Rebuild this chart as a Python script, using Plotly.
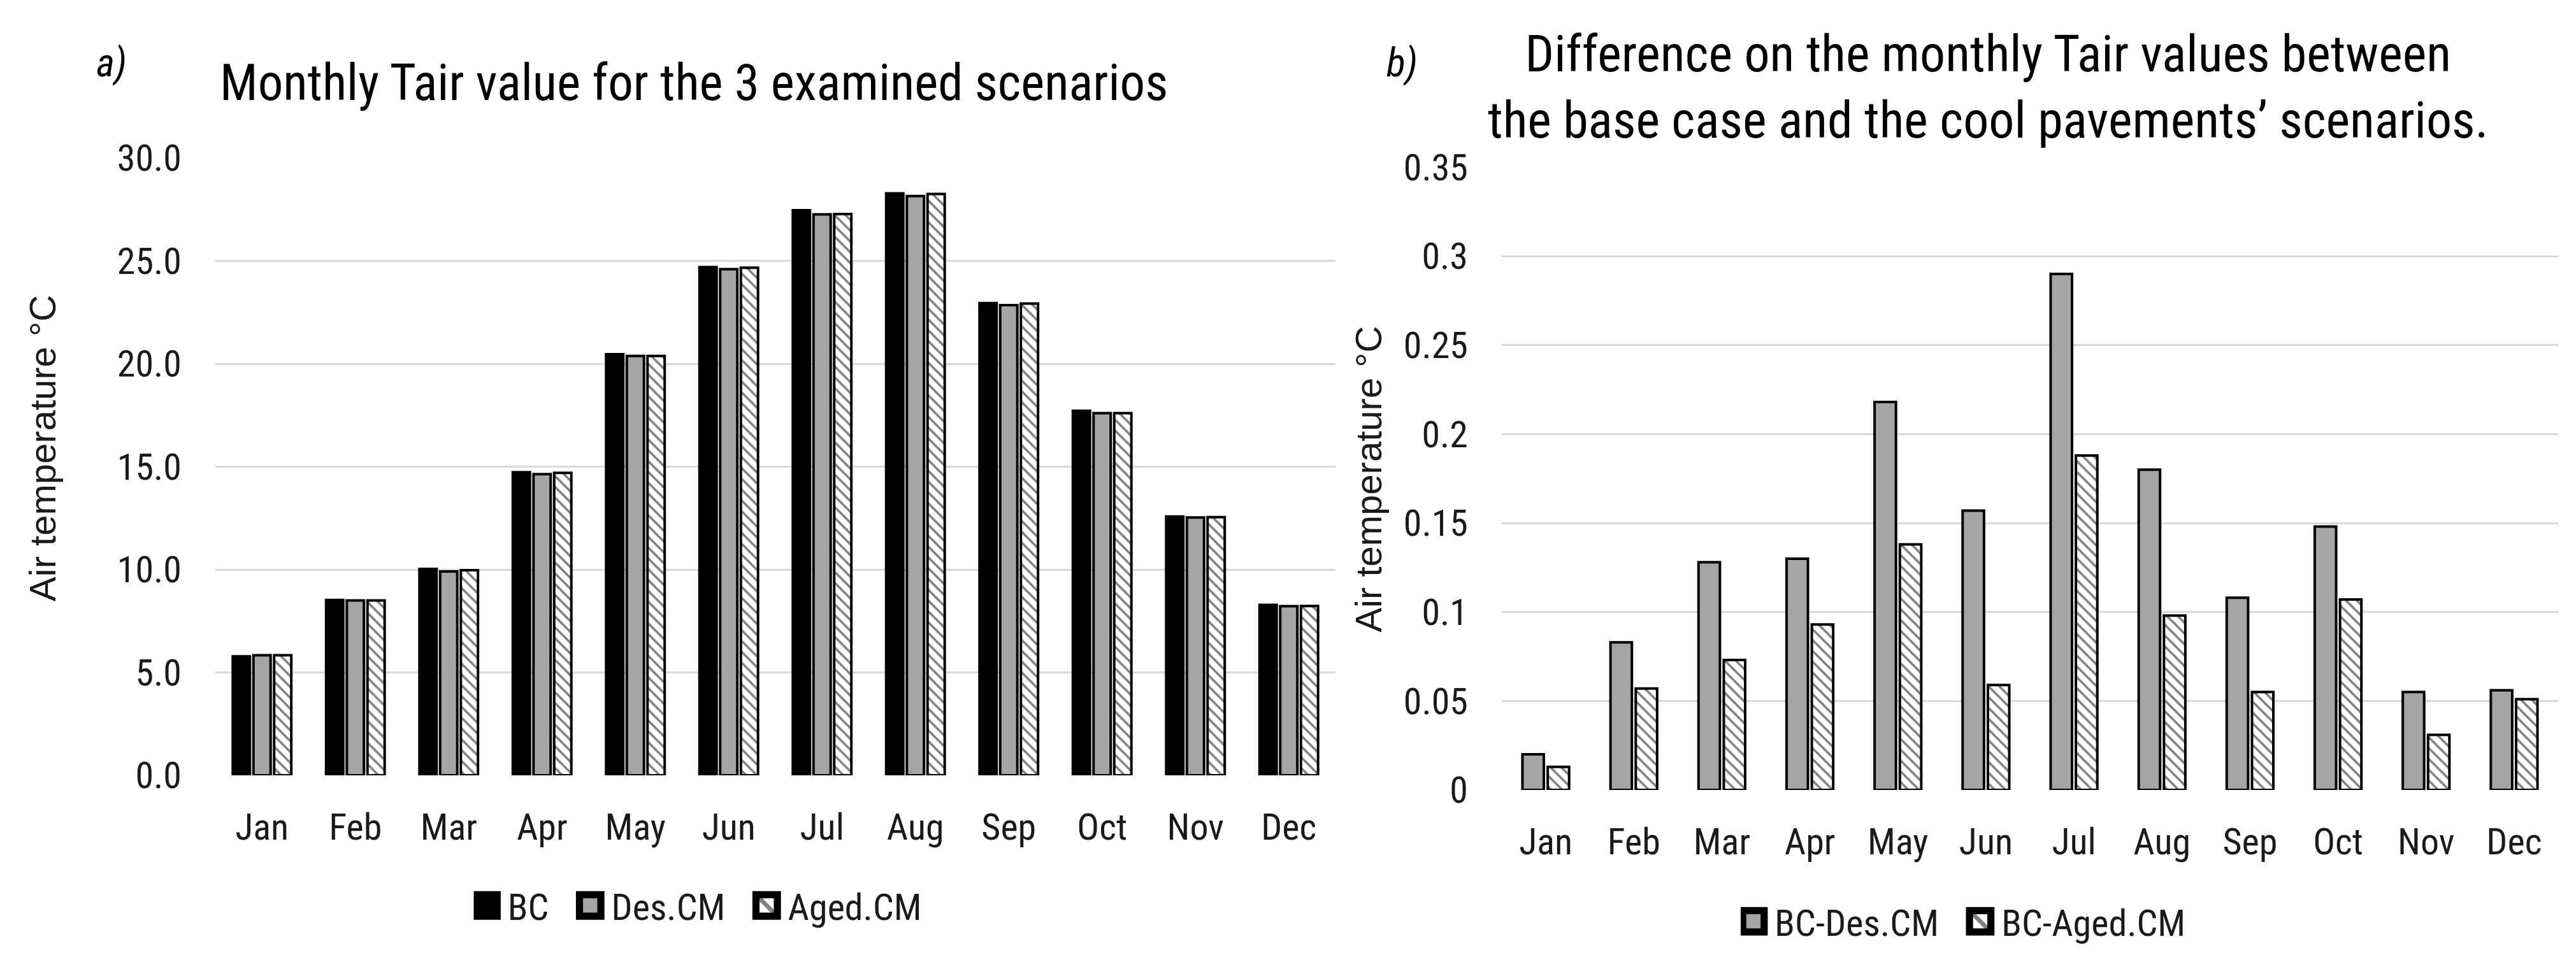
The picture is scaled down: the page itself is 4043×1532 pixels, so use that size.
import plotly.graph_objects as go

months = ["Jan", "Feb", "Mar", "Apr", "May", "Jun", "Jul", "Aug", "Sep", "Oct", "Nov", "Dec"]

# Panel a) monthly air temperature (degC)
bc = [5.78, 8.52, 10.03, 14.73, 20.47, 24.70, 27.46, 28.28, 22.95, 17.72, 12.58, 8.28]
des_cm = [5.84, 8.50, 9.91, 14.64, 20.38, 24.60, 27.26, 28.15, 22.85, 17.60, 12.53, 8.22]
aged_cm = [5.84, 8.50, 9.97, 14.70, 20.38, 24.67, 27.28, 28.25, 22.93, 17.60, 12.55, 8.23]

# Panel b) differences (degC)
bc_des = [0.020, 0.083, 0.128, 0.130, 0.218, 0.157, 0.290, 0.180, 0.108, 0.148, 0.055, 0.056]
bc_aged = [0.013, 0.057, 0.073, 0.093, 0.138, 0.059, 0.188, 0.098, 0.055, 0.107, 0.031, 0.051]

left_ticks = [0, 5, 10, 15, 20, 25, 30]
right_ticks = [0, 0.05, 0.1, 0.15, 0.2, 0.25, 0.3, 0.35]

W, H = 4043, 1532
NARROW = "Liberation Sans Narrow, Arial Narrow, Roboto Condensed, Liberation Sans"
WIDE = "Liberation Sans, Arial, DejaVu Sans"
GRAY = "#a5a5a5"
LEAD = "\u00a0"
PAD = "\u00a0" * 3
hatch = dict(shape="\\", fgcolor="black", bgcolor="white", size=12, solidity=0.3)

fig = go.Figure()

fig.add_trace(go.Bar(x=months, y=bc, name=LEAD + "BC" + PAD, marker=dict(color="black", line=dict(color="black", width=4)),
                     xaxis="x", yaxis="y", legend="legend"))
fig.add_trace(go.Bar(x=months, y=des_cm, name=LEAD + "Des.CM" + PAD, marker=dict(color=GRAY, line=dict(color="black", width=4)),
                     xaxis="x", yaxis="y", legend="legend"))
fig.add_trace(go.Bar(x=months, y=aged_cm, name=LEAD + "Aged.CM",
                     marker=dict(color="white", pattern=hatch, line=dict(color="black", width=4)),
                     xaxis="x", yaxis="y", legend="legend"))

fig.add_trace(go.Bar(x=months, y=bc_des, name=LEAD + "BC-Des.CM" + PAD, width=0.243, offset=-0.265,
                     marker=dict(color=GRAY, line=dict(color="black", width=4)),
                     xaxis="x2", yaxis="y2", legend="legend2"))
fig.add_trace(go.Bar(x=months, y=bc_aged, name=LEAD + "BC-Aged.CM", width=0.243, offset=0.022,
                     marker=dict(color="white", pattern=hatch, line=dict(color="black", width=4)),
                     xaxis="x2", yaxis="y2", legend="legend2"))

tickfont = dict(family=NARROW, size=58, color="#1a1a1a")
common_x = dict(showgrid=False, showline=False, zeroline=False, ticks="", tickfont=tickfont,
                ticklabelstandoff=42, fixedrange=True)
common_y = dict(showgrid=True, gridcolor="#d9d9d9", gridwidth=3, showline=False, zeroline=False,
                ticks="", tickfont=tickfont, ticklabelstandoff=52, fixedrange=True)

fig.update_layout(
    width=W, height=H,
    margin=dict(l=0, r=0, t=0, b=0),
    paper_bgcolor="white", plot_bgcolor="white",
    barmode="group", bargap=0.335, bargroupgap=0.17,
    xaxis=dict(domain=[338 / W, 2096 / W], anchor="y", **common_x),
    yaxis=dict(domain=[1 - 1238 / H, 1 - 224 / H], anchor="x", range=[0, 30], tickvals=left_ticks,
               tickformat=".1f", **common_y),
    xaxis2=dict(domain=[2357 / W, 4015 / W], anchor="y2", **common_x),
    yaxis2=dict(domain=[1 - 1262 / H, 1 - 239 / H], anchor="x2", range=[0, 0.35], tickvals=right_ticks,
                **common_y),
    legend=dict(orientation="h", x=1098 / W, y=1 - 1452 / H, xanchor="center", yanchor="middle",
                font=dict(family=NARROW, size=58, color="#1a1a1a"), bgcolor="rgba(0,0,0,0)"),
    legend2=dict(orientation="h", x=3084 / W, y=1 - 1478 / H, xanchor="center", yanchor="middle",
                 font=dict(family=NARROW, size=58, color="#1a1a1a"), bgcolor="rgba(0,0,0,0)"),
    annotations=[
        dict(text="Monthly Tair value for the 3 examined scenarios", x=1089 / W, y=1 - 100 / H,
             xref="paper", yref="paper", xanchor="center", yanchor="middle", showarrow=False,
             font=dict(family=NARROW, size=79, color="black")),
        dict(text="<i>a)</i>", x=175 / W, y=1 - 68 / H, xref="paper", yref="paper",
             xanchor="center", yanchor="middle", showarrow=False,
             font=dict(family=NARROW, size=62, color="black")),
        dict(text="Difference on the monthly Tair values between<br>the base case and the cool pavements\u2019 scenarios.",
             x=3120 / W, y=1 - 108 / H, xref="paper", yref="paper", xanchor="center", yanchor="middle",
             align="center", showarrow=False, font=dict(family=NARROW, size=80, color="black")),
        dict(text="<i>b)</i>", x=2200 / W, y=1 - 68 / H, xref="paper", yref="paper",
             xanchor="center", yanchor="middle", showarrow=False,
             font=dict(family=NARROW, size=62, color="black")),
        dict(text="Air temperature \u00b0C", x=67 / W, y=1 - 701 / H, xref="paper", yref="paper",
             xanchor="center", yanchor="middle", textangle=-90, showarrow=False,
             font=dict(family=WIDE, size=58, color="#1a1a1a")),
        dict(text="Air temperature \u00b0C", x=2148 / W, y=1 - 752 / H, xref="paper", yref="paper",
             xanchor="center", yanchor="middle", textangle=-90, showarrow=False,
             font=dict(family=WIDE, size=58, color="#1a1a1a")),
    ],
)

post = """
document.body.style.margin='0';
document.body.style.overflow='hidden';
var gd=document.getElementById('{plot_id}');
function fixLegend(){
  gd.querySelectorAll('.legendpoints path').forEach(function(p){
    var t=p.getAttribute('transform')||'';
    if(t.indexOf('scale')<0){p.setAttribute('transform', t+' scale(2.8)');}
  });
}
fixLegend();
gd.on('plotly_afterplot', fixLegend);
var n=0; var iv=setInterval(function(){ fixLegend(); n++; if(n>60){clearInterval(iv);} }, 50);
"""

fig.write_html("out.html", post_script=post, config=dict(displayModeBar=False))
